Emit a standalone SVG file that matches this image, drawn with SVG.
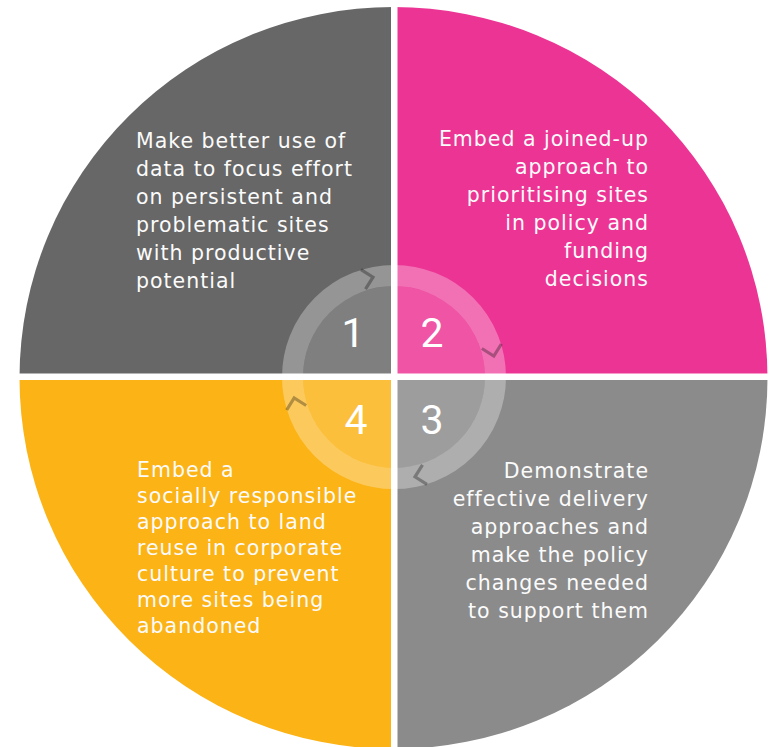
<svg xmlns="http://www.w3.org/2000/svg" width="774" height="747" viewBox="0 0 774 747">
<style>
.t{font-family:"DejaVu Sans","Liberation Sans",sans-serif;font-size:20.5px;letter-spacing:1px;fill:#fbfbfb}
.r{text-anchor:end}
.n{font-family:Roboto,"Open Sans","Liberation Sans",sans-serif;font-weight:400;font-size:41px;fill:#ffffff;text-anchor:middle}
.chev{fill:none;stroke:#000;stroke-opacity:0.3;stroke-width:3.2;stroke-linejoin:miter}
</style>
<defs>
<clipPath id="circ"><ellipse cx="393.5" cy="378" rx="374" ry="371"/></clipPath>
</defs>
<rect width="774" height="747" fill="#ffffff"/>
<g clip-path="url(#circ)">
<g id="q1"><rect x="0" y="0" width="394" height="377" fill="#676767"/></g>
<g id="q2"><rect x="394" y="0" width="380" height="377" fill="#ec3494"/></g>
<g id="q3"><rect x="394" y="377" width="380" height="370" fill="#8b8b8b"/></g>
<g id="q4"><rect x="0" y="377" width="394" height="370" fill="#fbb316"/></g>
</g>
<g id="ring">
<circle cx="394" cy="377" r="101.5" fill="none" stroke="#ffffff" stroke-opacity="0.3" stroke-width="21"/>
<circle cx="394" cy="377" r="91" fill="#ffffff" fill-opacity="0.16"/>
</g>
<g id="connectors">
<polyline class="chev" points="92,-8 102,2 112,-8" transform="translate(394 377) rotate(-103)"/>
<polyline class="chev" points="92,-8 102,2 112,-8" transform="translate(394 377) rotate(-13)"/>
<polyline class="chev" points="92,-8 102,2 112,-8" transform="translate(394 377) rotate(77)"/>
<polyline class="chev" points="92,-8 102,2 112,-8" transform="translate(394 377) rotate(167)"/>
</g>
<g id="gaps" fill="#ffffff">
<rect x="391" y="0" width="6.5" height="747"/>
<rect x="0" y="373.5" width="774" height="6.5"/>
</g>
<g id="node1">
<text class="n" x="353" y="347">1</text>
<text class="t" x="136" y="147.5">Make better use of</text>
<text class="t" x="136" y="175.5">data to focus effort</text>
<text class="t" x="136" y="203.5">on persistent and</text>
<text class="t" x="136" y="231.5">problematic sites</text>
<text class="t" x="136" y="259.5">with productive</text>
<text class="t" x="136" y="287.5">potential</text>
</g>
<g id="node2">
<text class="n" x="432" y="347">2</text>
<text class="t r" x="649" y="146">Embed a joined-up</text>
<text class="t r" x="649" y="174">approach to</text>
<text class="t r" x="649" y="202">prioritising sites</text>
<text class="t r" x="649" y="230">in policy and</text>
<text class="t r" x="649" y="258">funding</text>
<text class="t r" x="649" y="286">decisions</text>
</g>
<g id="node3">
<text class="n" x="432" y="434">3</text>
<text class="t r" x="649" y="478">Demonstrate</text>
<text class="t r" x="649" y="506">effective delivery</text>
<text class="t r" x="649" y="534">approaches and</text>
<text class="t r" x="649" y="562">make the policy</text>
<text class="t r" x="649" y="590">changes needed</text>
<text class="t r" x="649" y="618">to support them</text>
</g>
<g id="node4">
<text class="n" x="356" y="434">4</text>
<text class="t" x="137" y="477">Embed a</text>
<text class="t" x="137" y="503">socially responsible</text>
<text class="t" x="137" y="529">approach to land</text>
<text class="t" x="137" y="555">reuse in corporate</text>
<text class="t" x="137" y="581">culture to prevent</text>
<text class="t" x="137" y="607">more sites being</text>
<text class="t" x="137" y="633">abandoned</text>
</g>
</svg>
